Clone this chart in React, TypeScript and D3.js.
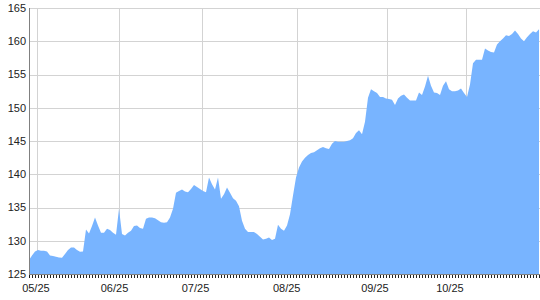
import React from "react";
import * as d3 from "d3";

// series values (one per trading day)
const values: number[] = [
  127.1, 127.8, 128.4, 128.6, 128.5, 128.5, 128.4, 127.8, 127.7, 127.6,
  127.5, 127.45, 128.0, 128.6, 129.0, 129.0, 128.6, 128.35, 128.4, 131.7,
  131.1, 132.2, 133.5, 132.3, 131.2, 131.2, 131.8, 131.6, 131.2, 130.9,
  134.8, 131.0, 130.8, 131.2, 131.5, 132.2, 132.3, 131.9, 131.8, 133.3,
  133.5, 133.5, 133.4, 133.1, 132.8, 132.7, 132.8, 133.5, 134.8, 137.2,
  137.5, 137.7, 137.4, 137.3, 137.8, 138.4, 138.1, 137.8, 137.5, 137.3,
  139.5, 138.5, 137.7, 139.5, 136.3, 137.0, 138.0, 137.2, 136.4, 136.0,
  135.2, 133.0, 131.8, 131.3, 131.3, 131.3, 131.0, 130.6, 130.2, 130.3,
  130.5, 130.1, 130.3, 132.4, 131.8, 131.5, 132.3, 134.0, 136.8, 139.5,
  141.0, 141.9, 142.5, 142.9, 143.2, 143.3, 143.6, 143.9, 144.1, 143.9,
  143.8, 144.6, 145.0, 144.9, 144.9, 144.9, 145.0, 145.1, 145.4, 146.2,
  146.6, 146.0, 147.9, 151.5, 152.8, 152.5, 152.2, 151.6, 151.6, 151.4,
  151.3, 151.2, 150.4, 151.4, 151.8, 152.0, 151.5, 151.1, 151.1, 151.1,
  152.3, 151.9, 153.2, 154.8, 153.3, 152.3, 152.2, 151.9, 153.3, 154.0,
  152.8, 152.5, 152.5, 152.6, 152.9, 152.2, 151.6, 153.5, 156.7, 157.2,
  157.2, 157.2, 158.9, 158.6, 158.4, 158.3, 159.5, 160.0, 160.4, 160.9,
  160.8, 161.1, 161.6, 161.1, 160.4, 160.0, 160.6, 161.1, 161.5, 161.3,
  161.8,
];

// x-axis tick labels and where they sit (in data-index units)
const xTickLabels: string[] = ["05/25", "06/25", "07/25", "08/25", "09/25", "10/25"];
const xGridIndex: number[] = [2.8, 30.1, 57.6, 89.2, 119.4, 145.6];
const xLabelIndex: number[] = [2.3, 28.5, 55.5, 85.9, 115.3, 140.3];

// y-axis ticks
const yTicks: number[] = [125, 130, 135, 140, 145, 150, 155, 160, 165];

const W = 540;
const H = 300;
const left = 29;
const right = 539;
const top = 8;
const bottom = 274;

export default function App() {
  const x = d3.scaleLinear().domain([0, values.length - 1]).range([left, right]);
  const y = d3.scaleLinear().domain([125, 165]).range([bottom, top]);

  const area = d3
    .area<number>()
    .x((_, i) => x(i))
    .y0(y(125))
    .y1((d) => y(d));

  const font = "'Liberation Sans', Arial, sans-serif";

  return (
    <svg
      width={W}
      height={H}
      style={{ position: "absolute", left: 0, top: 0, background: "#fff" }}
    >
      {/* horizontal grid */}
      {yTicks.map((t) => (
        <line
          key={"h" + t}
          x1={left}
          x2={right + 1}
          y1={Math.round(y(t)) + 0.5}
          y2={Math.round(y(t)) + 0.5}
          stroke="#d3d3d3"
          strokeWidth={1}
        />
      ))}
      {/* vertical grid */}
      {xGridIndex.map((g, k) => (
        <line
          key={"v" + k}
          x1={Math.round(x(g)) + 0.5}
          x2={Math.round(x(g)) + 0.5}
          y1={top}
          y2={bottom}
          stroke="#d3d3d3"
          strokeWidth={1}
        />
      ))}
      {/* area */}
      <path d={area(values) || ""} fill="#78b4ff" stroke="none" />
      {/* axes */}
      <line x1={left + 0.5} x2={left + 0.5} y1={top} y2={bottom + 1} stroke="#808080" />
      <line x1={left} x2={right + 1} y1={bottom + 0.5} y2={bottom + 0.5} stroke="#808080" />
      {values.map((_, i) => (
        <line
          key={"t" + i}
          x1={Math.round(x(i)) + 0.5}
          x2={Math.round(x(i)) + 0.5}
          y1={bottom + 1}
          y2={bottom + 4}
          stroke="#222"
        />
      ))}
      {/* y labels */}
      {yTicks.map((t) => (
        <text
          key={"yl" + t}
          x={26}
          y={y(t)}
          dy="0.36em"
          textAnchor="end"
          fontFamily={font}
          fontSize={11}
          fill="#222"
        >
          {t}
        </text>
      ))}
      {/* x labels */}
      {xLabelIndex.map((g, k) => (
        <text
          key={"xl" + k}
          x={x(g)}
          y={291.5}
          textAnchor="middle"
          fontFamily={font}
          fontSize={11}
          fill="#222"
        >
          {xTickLabels[k]}
        </text>
      ))}
    </svg>
  );
}
